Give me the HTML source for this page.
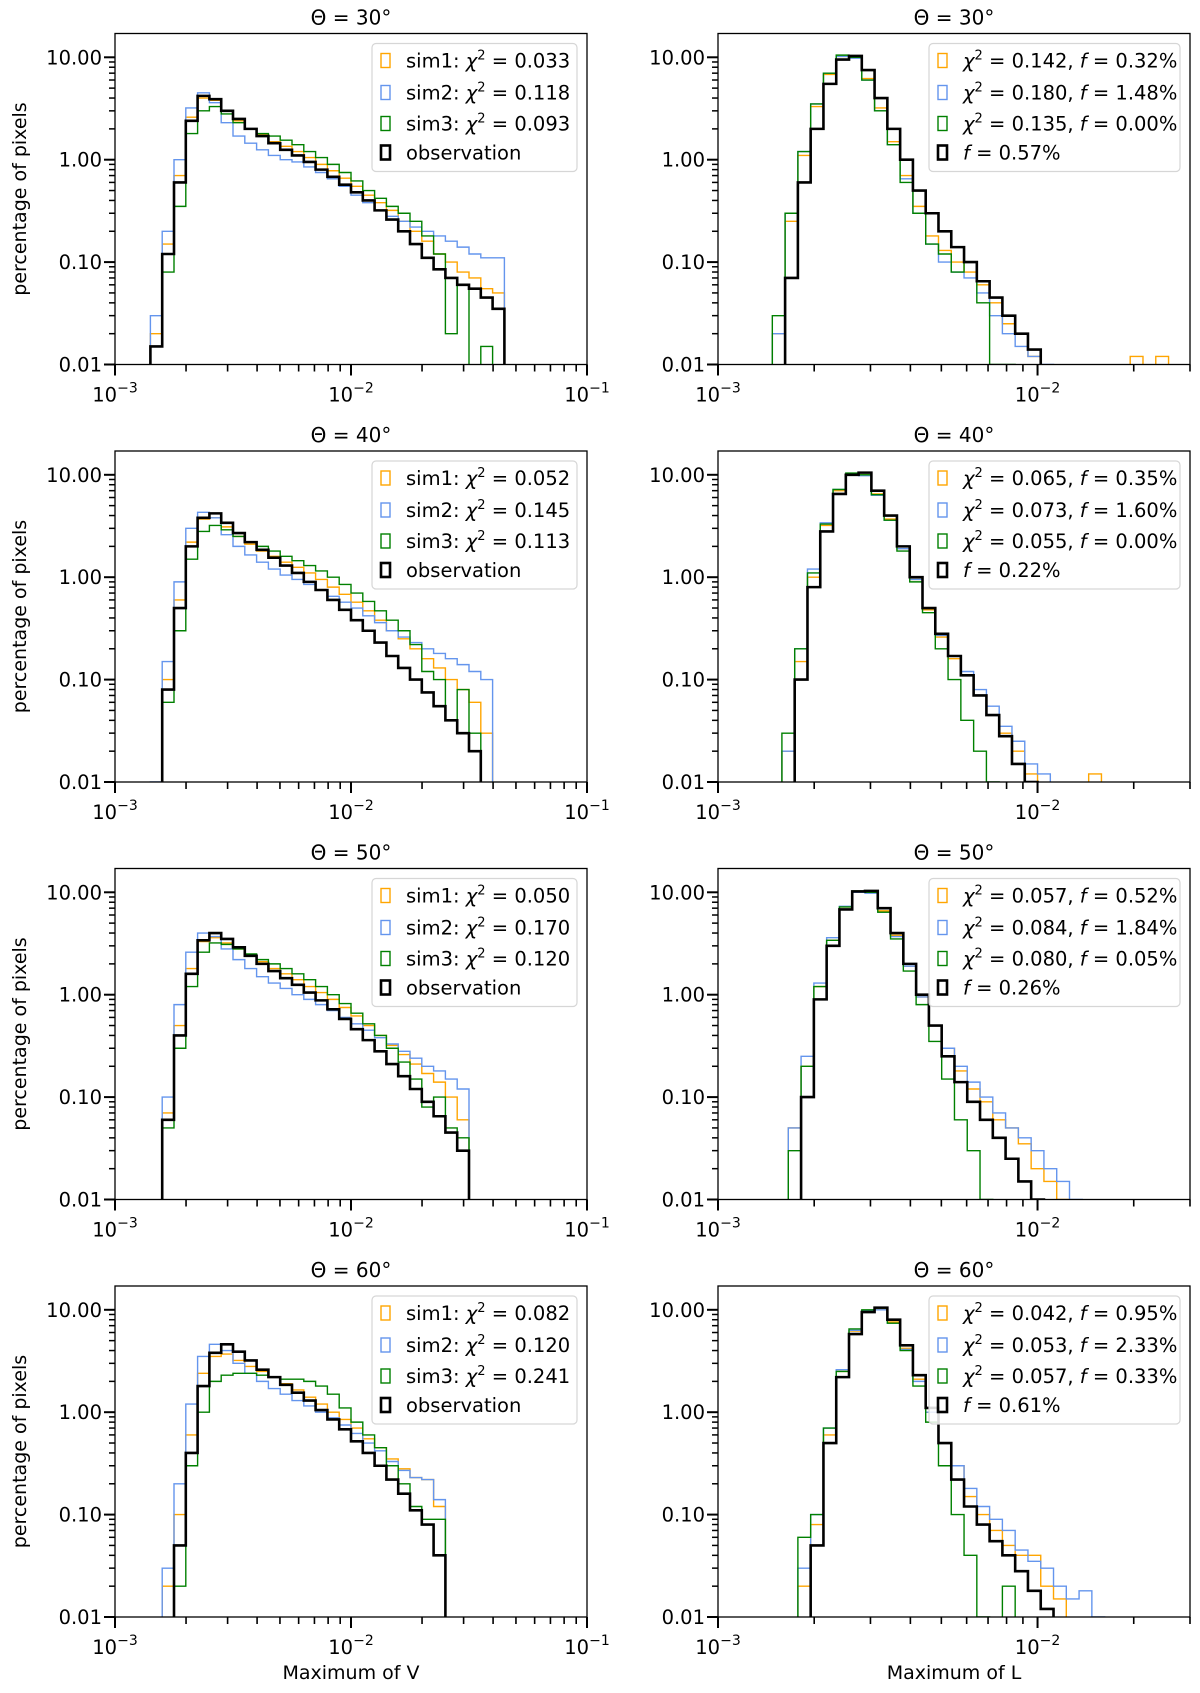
<!DOCTYPE html>
<html><head><meta charset="utf-8"><style>
html,body{margin:0;padding:0;background:#fff;}
svg{display:block;font-family:"DejaVu Sans","Liberation Sans",sans-serif;}
</style></head><body>
<svg id="fig" width="1200" height="1693" viewBox="0 0 1200 1693" xmlns="http://www.w3.org/2000/svg"></svg>
<script>
// ---- data: left panels (Maximum of V), bin width 0.05 dex ----
const vTitles = ["Θ = 30°","Θ = 40°","Θ = 50°","Θ = 60°"];
const vStart = [-2.9,-2.9,-2.85,-2.8];
const vChi1 = ["0.033","0.052","0.050","0.082"];
const vChi2 = ["0.118","0.145","0.170","0.120"];
const vChi3 = ["0.093","0.113","0.120","0.241"];
const v30_obs = [0,0.015,0.12,0.6,2.4,4.2,3.9,3.0,2.5,2.0,1.7,1.45,1.25,1.1,0.95,0.8,0.68,0.57,0.48,0.4,0.32,0.26,0.2,0.15,0.11,0.085,0.07,0.06,0.055,0.045,0.035];
const v30_sim1 = [0,0.02,0.15,0.7,2.6,4.0,3.8,3.0,2.4,2.0,1.75,1.5,1.35,1.2,1.05,0.9,0.78,0.66,0.55,0.45,0.38,0.32,0.25,0.2,0.16,0.12,0.1,0.08,0.07,0.055,0.05];
const v30_sim2 = [0,0.03,0.2,1.0,3.2,4.5,3.6,2.3,1.7,1.45,1.25,1.1,1.0,0.95,0.85,0.75,0.65,0.55,0.45,0.38,0.32,0.28,0.25,0.22,0.2,0.18,0.16,0.14,0.12,0.11,0.11];
const v30_sim3 = [0,0.015,0.08,0.35,1.8,3.0,3.3,2.8,2.3,2.0,1.8,1.7,1.55,1.4,1.2,1.05,0.9,0.75,0.62,0.5,0.42,0.35,0.3,0.25,0.18,0.12,0.02,0.06,0.005,0.015,0.005];
const v40_obs = [0,0.005,0.08,0.5,2.0,3.8,4.2,3.4,2.7,2.2,1.85,1.55,1.3,1.1,0.9,0.75,0.6,0.48,0.38,0.3,0.23,0.17,0.13,0.1,0.075,0.055,0.04,0.03,0.02,0.005];
const v40_sim1 = [0,0.008,0.1,0.6,2.2,3.7,3.8,3.1,2.5,2.1,1.8,1.6,1.4,1.25,1.1,0.95,0.8,0.68,0.57,0.47,0.38,0.3,0.25,0.2,0.16,0.13,0.1,0.08,0.06,0.03];
const v40_sim2 = [0,0.01,0.15,0.9,3.0,4.3,3.8,2.6,2.0,1.65,1.4,1.2,1.05,0.95,0.85,0.75,0.65,0.57,0.5,0.42,0.36,0.3,0.26,0.23,0.2,0.18,0.16,0.14,0.12,0.1];
const v40_sim3 = [0,0.005,0.06,0.3,1.5,2.8,3.2,2.9,2.5,2.2,2.0,1.8,1.6,1.45,1.3,1.15,1.0,0.85,0.7,0.58,0.47,0.38,0.3,0.22,0.12,0.1,0.04,0.08,0.03,0.005];
const v50_obs = [0,0.06,0.4,1.6,3.4,4.0,3.5,2.9,2.4,2.0,1.7,1.45,1.25,1.05,0.88,0.72,0.58,0.46,0.36,0.28,0.21,0.16,0.12,0.09,0.065,0.045,0.03];
const v50_sim1 = [0,0.07,0.5,1.8,3.3,3.6,3.2,2.8,2.4,2.1,1.8,1.6,1.4,1.2,1.05,0.9,0.75,0.62,0.5,0.4,0.32,0.26,0.21,0.17,0.14,0.1,0.06];
const v50_sim2 = [0,0.1,0.8,2.6,4.0,3.7,2.8,2.2,1.8,1.5,1.3,1.15,1.0,0.9,0.8,0.7,0.6,0.52,0.45,0.38,0.33,0.28,0.24,0.2,0.18,0.15,0.12];
const v50_sim3 = [0,0.05,0.3,1.2,2.6,3.2,3.1,2.8,2.5,2.2,2.0,1.8,1.6,1.4,1.2,1.0,0.82,0.66,0.52,0.4,0.3,0.22,0.15,0.08,0.1,0.05,0.04];
const v60_obs = [0,0.05,0.4,1.8,3.8,4.6,3.9,3.2,2.6,2.2,1.85,1.55,1.3,1.05,0.85,0.68,0.52,0.4,0.3,0.22,0.16,0.11,0.08,0.04];
const v60_sim1 = [0.02,0.1,0.6,2.4,3.5,3.7,3.2,2.8,2.5,2.2,1.9,1.65,1.4,1.2,1.0,0.85,0.7,0.55,0.45,0.35,0.28,0.23,0.22,0.12];
const v60_sim2 = [0.03,0.2,1.2,3.5,4.6,4.0,3.0,2.4,2.0,1.7,1.5,1.3,1.15,1.0,0.88,0.75,0.62,0.5,0.42,0.33,0.27,0.23,0.22,0.14];
const v60_sim3 = [0,0.02,0.3,1.0,2.0,2.3,2.4,2.4,2.3,2.2,2.1,2.1,2.0,1.8,1.5,1.1,0.8,0.6,0.45,0.3,0.2,0.12,0.09,0.09];
// ---- data: right panels (Maximum of L), bin width 0.04 dex ----
const lStart = [-2.83,-2.80,-2.78,-2.75];
const lChi1 = ["0.142","0.065","0.057","0.042"];
const lF1 = ["0.32","0.35","0.52","0.95"];
const lChi2 = ["0.180","0.073","0.084","0.053"];
const lF2 = ["1.48","1.60","1.84","2.33"];
const lChi3 = ["0.135","0.055","0.080","0.057"];
const lF3 = ["0.00","0.00","0.05","0.33"];
const lFobs = ["0.57","0.22","0.26","0.61"];
const l30_obs = [0,0.07,0.6,2.0,5.5,9.5,10.3,7.5,4.0,2.0,1.0,0.5,0.3,0.2,0.14,0.1,0.065,0.045,0.03,0.02,0.014,0.008];
const l30_sim1 = [0.02,0.25,1.1,3.3,6.8,10.2,10,6.2,3.2,1.5,0.7,0.35,0.18,0.13,0.1,0.08,0.06,0.04,0.025,0.02,0.012,0.008,0.005,0,0,0,0,0,0.012,0,0.012,0,0.005];
const l30_sim2 = [0.02,0.3,1.2,3.5,7,10.2,9.8,6,3,1.4,0.65,0.3,0.15,0.1,0.08,0.07,0.05,0.03,0.02,0.015,0.012,0.01,0.005,0.008];
const l30_sim3 = [0.03,0.3,1.2,3.5,7,10.5,10,6,3,1.4,0.6,0.3,0.15,0.12,0.08,0.1,0.04,0.01,0.01,0,0,0];
const l40_obs = [0,0.1,0.8,2.8,6.5,10,10.5,7,4,2,1,0.5,0.28,0.17,0.11,0.07,0.045,0.028,0.015,0.01];
const l40_sim1 = [0.02,0.15,1.0,3.2,7,10.2,10,6.5,3.7,1.9,0.95,0.48,0.26,0.16,0.11,0.07,0.045,0.03,0.02,0.012,0.005,0,0,0,0.012];
const l40_sim2 = [0.02,0.2,1.2,3.4,7.2,10.2,9.8,6.3,3.6,1.9,0.95,0.5,0.27,0.17,0.12,0.08,0.055,0.035,0.025,0.015,0.012,0.008];
const l40_sim3 = [0.03,0.2,1.1,3.3,7.2,10.4,10,6.4,3.6,1.8,0.9,0.45,0.2,0.1,0.04,0.02,0.01,0.005,0,0];
const l50_obs = [0,0.1,0.9,3.0,6.8,10.2,10.3,7,4,2,1,0.5,0.25,0.14,0.09,0.06,0.04,0.025,0.015,0.01];
const l50_sim1 = [0.05,0.2,1.2,3.4,7.2,10,10,6.6,3.8,1.9,0.95,0.5,0.3,0.18,0.12,0.09,0.06,0.05,0.035,0.02,0.015,0.01];
const l50_sim2 = [0.05,0.25,1.3,3.6,7.3,10,9.8,6.4,3.7,1.9,0.95,0.5,0.3,0.2,0.14,0.1,0.07,0.05,0.04,0.03,0.02,0.015,0.01];
const l50_sim3 = [0.03,0.2,1.2,3.4,7.2,10.3,10,6.4,3.5,1.7,0.8,0.35,0.15,0.06,0.03,0.01,0.005,0];
const l60_obs = [0,0.05,0.5,2.2,5.8,9.5,10.5,8,4.5,2.3,1.1,0.5,0.22,0.12,0.08,0.055,0.04,0.028,0.018,0.012,0.008];
const l60_sim1 = [0.02,0.08,0.6,2.5,6.2,9.8,10.2,7.6,4.2,2.1,1.0,0.5,0.3,0.15,0.1,0.07,0.05,0.04,0.04,0.02,0.015,0.008];
const l60_sim2 = [0.03,0.1,0.7,2.6,6.3,9.8,10,7.4,4.1,2.0,1.0,0.5,0.3,0.18,0.12,0.09,0.07,0.045,0.035,0.03,0.02,0.015,0.018,0.01];
const l60_sim3 = [0.06,0.1,0.7,2.5,6.5,10,10.4,7.4,4,1.8,0.8,0.3,0.1,0.04,0.01,0.005,0.02,0];
const yTickLabels = ["0.01","0.10","1.00","10.00"];
const yTickValues = [0.01,0.1,1,10];

const vSeries = [[v30_sim1,v30_sim2,v30_sim3,v30_obs],[v40_sim1,v40_sim2,v40_sim3,v40_obs],[v50_sim1,v50_sim2,v50_sim3,v50_obs],[v60_sim1,v60_sim2,v60_sim3,v60_obs]];
const lSeries = [[l30_sim1,l30_sim2,l30_sim3,l30_obs],[l40_sim1,l40_sim2,l40_sim3,l40_obs],[l50_sim1,l50_sim2,l50_sim3,l50_obs],[l60_sim1,l60_sim2,l60_sim3,l60_obs]];

const NS = "http://www.w3.org/2000/svg";
const svg = document.getElementById('fig');
const COLORS = ["#ffa500","#6495ed","#008000","#000000"];
const WIDTHS = [1.4,1.4,1.4,2.6];
function mk(tag, attrs, parent){
  const e = document.createElementNS(NS, tag);
  for (const k in attrs) e.setAttribute(k, attrs[k]);
  (parent||svg).appendChild(e);
  return e;
}
const ROW_TOP = 33.5, ROW_STEP = 417.5, PH = 331;
const YMIN = -2, YMAX = -2 + PH/102.4;

function drawPanel(col, row){
  const left = col===0 ? 115 : 718;
  const right = col===0 ? 587 : 1190;
  const xmin = -3, xmax = col===0 ? -1 : Math.log10(0.03);
  const top = ROW_TOP + row*ROW_STEP, bottom = top + PH;
  const sx = lx => left + (lx - xmin)/(xmax - xmin)*(right-left);
  const sy = v => v<=0 ? bottom+20 : bottom - (Math.log10(v) - YMIN)/(YMAX - YMIN)*PH;
  const g = mk('g', {});
  
  
  const cid = 'clip'+col+row;
  const cp = mk('clipPath', {id:cid}, g);
  mk('rect', {x:left, y:top, width:right-left, height:PH}, cp);
  const t = mk('text', {x:(left+right)/2, y:top-9, 'text-anchor':'middle', 'font-size':20, fill:'#000'}, g);
  t.textContent = vTitles[row];
  
  
  const start = col===0 ? vStart[row] : lStart[row];
  const bw = col===0 ? 0.05 : 0.04;
  const series = col===0 ? vSeries[row] : lSeries[row];
  const names = ['sim1','sim2','sim3','observation'];
  series.forEach((vals, si) => {
    let d = 'M' + sx(start) + ',' + (bottom+20);
    vals.forEach((v, i) => {
      const y = sy(v);
      d += ' L' + sx(start+i*bw) + ',' + y + ' L' + sx(start+(i+1)*bw) + ',' + y;
    });
    d += ' L' + sx(start+vals.length*bw) + ',' + (bottom+20);
    const p = mk('path', {d:d, fill:'none', stroke:COLORS[si], 'stroke-width':WIDTHS[si], 'clip-path':'url(#'+cid+')', 'stroke-linejoin':'miter'}, g);
    
    
  });
  mk('rect', {x:left, y:top, width:right-left, height:PH, fill:'none', stroke:'#000', 'stroke-width':1.3}, g);
  for (let dec=-2; dec<=1; dec++){
    for (let m=1; m<=9; m++){
      const lv = dec + Math.log10(m);
      if (lv > YMAX) continue;
      const y = bottom - (lv - YMIN)/(YMAX-YMIN)*PH;
      const len = m===1 ? 11 : 6;
      mk('line', {x1:left-len, x2:left, y1:y, y2:y, stroke:'#000', 'stroke-width': m===1?2:1.5}, g);
    }
  }
  yTickValues.forEach((v, i) => {
    const y = sy(v);
    const tl = mk('text', {x:left-13, y:y+7, 'text-anchor':'end', 'font-size':19.5, fill:'#000'}, g);
    tl.textContent = yTickLabels[i];
    
    
  });
  for (let dec=-3; dec<=-1; dec++){
    for (let m=1; m<=9; m++){
      const lv = dec + Math.log10(m);
      if (lv > xmax + 0.001) continue;
      const x = sx(lv);
      const len = m===1 ? 11 : 7;
      mk('line', {x1:x, x2:x, y1:bottom, y2:bottom+len, stroke:'#000', 'stroke-width': m===1?2:1.6}, g);
      if (m===1){
        const tl = mk('text', {x:x, y:bottom+37, 'text-anchor':'middle', 'font-size':19.5, fill:'#000'}, g);
        
        
        tl.appendChild(document.createTextNode('10'));
        const sup = mk('tspan', {dy:-9, 'font-size':14}, tl);
        sup.textContent = '−' + (-dec);
      }
    }
  }
  if (col===0){
    const yl = mk('text', {x:0, y:0, transform:'translate(26,'+((top+bottom)/2)+') rotate(-90)', 'text-anchor':'middle', 'font-size':19, fill:'#000'}, g);
    yl.textContent = 'percentage of pixels';
    
    
  }
  if (row===3){
    const xl = mk('text', {x:col===0?351:954, y:1679, 'text-anchor':'middle', 'font-size':19, fill:'#000'}, g);
    xl.textContent = col===0 ? 'Maximum of V' : 'Maximum of L';
    
    
  }
  const lgX = col===0 ? 372 : 929, lgW = col===0 ? 205 : 251;
  const lg = mk('g', {}, g);
  
  
  mk('rect', {x:lgX, y:top+10, width:lgW, height:128, rx:4, fill:'#fff', 'fill-opacity':0.85, stroke:'#d6d6d6', 'stroke-width':1.2}, lg);
  const ys = [27, 59, 90, 119];
  for (let i=0;i<4;i++){
    const cy = top + ys[i];
    const hx = lgX + 9;
    mk('rect', {x:hx, y:cy-7, width:9, height:14, fill:'none', stroke:COLORS[i], 'stroke-width':WIDTHS[i]}, lg);
    const te = mk('text', {x:lgX + 34, y:cy+7, 'font-size':19.5, fill:'#000'}, lg);
    
    
    if (col===0){
      if (i<3){
        te.appendChild(document.createTextNode('sim'+(i+1)+': '));
        const ch = mk('tspan', {'font-style':'italic'}, te); ch.textContent = 'χ';
        const s2 = mk('tspan', {dy:-8, 'font-size':13}, te); s2.textContent = '2';
        const rest = mk('tspan', {dy:8}, te);
        rest.textContent = ' = ' + [vChi1,vChi2,vChi3][i][row];
      } else te.textContent = 'observation';
    } else {
      if (i<3){
        const ch = mk('tspan', {'font-style':'italic'}, te); ch.textContent = 'χ';
        const s2 = mk('tspan', {dy:-8, 'font-size':13}, te); s2.textContent = '2';
        const rest = mk('tspan', {dy:8}, te);
        rest.textContent = ' = ' + [lChi1,lChi2,lChi3][i][row] + ', ';
        const f = mk('tspan', {'font-style':'italic'}, te); f.textContent = 'f';
        const r2 = mk('tspan', {}, te); r2.textContent = ' = ' + [lF1,lF2,lF3][i][row] + '%';
      } else {
        const f = mk('tspan', {'font-style':'italic'}, te); f.textContent = 'f';
        const r2 = mk('tspan', {}, te); r2.textContent = ' = ' + lFobs[row] + '%';
      }
    }
  }
}
for (let r=0;r<4;r++){ drawPanel(0,r); drawPanel(1,r); }
</script>
</body></html>
